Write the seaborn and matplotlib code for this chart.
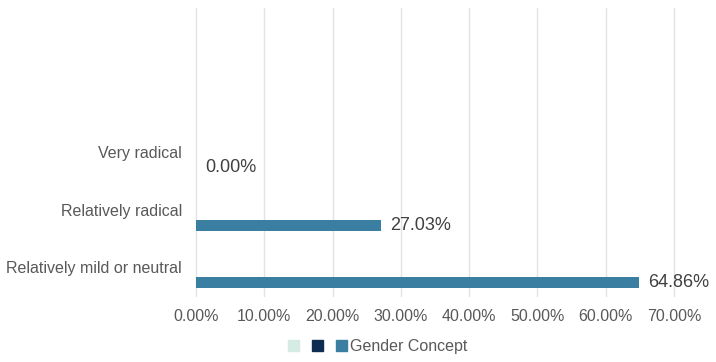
import matplotlib
matplotlib.use("Agg")
import matplotlib.pyplot as plt
import seaborn as sns
import pandas as pd

# chart data
categories = ["Very radical", "Relatively radical", "Relatively mild or neutral"]
series_names = ["Series 1", "Series 2", "Gender Concept"]
series1 = [0.0, 0.0, 0.0]
series2 = [0.0, 0.0, 0.0]
gender_concept = [0.0, 27.03, 64.86]
x_ticks = [0, 10, 20, 30, 40, 50, 60, 70]

colors = ["#d5ebe4", "#0f2d52", "#3a7ea1"]

rows = []
for name, vals in zip(series_names, [series1, series2, gender_concept]):
    for cat, v in zip(categories, vals):
        rows.append({"category": cat, "series": name, "value": v})
df = pd.DataFrame(rows)

sns.set_style("white")
plt.rcParams["font.family"] = ["Liberation Sans", "DejaVu Sans"]

fig = plt.figure(figsize=(7.16, 3.62), dpi=100)
ax = fig.add_axes([0.2737, 0.182, 0.6676, 0.796])

sns.barplot(data=df, y="category", x="value", hue="series", order=categories,
            hue_order=series_names, palette=colors, saturation=1, orient="h",
            width=0.8, gap=0.28, errorbar=None, linewidth=0, ax=ax, legend=False)

ax.set_xlim(0, 70)
ax.set_ylim(2.5, -2.5)
ax.set_xticks(x_ticks)
ax.set_xticklabels([f"{t:.2f}%" for t in x_ticks], fontsize=11.5, color="#595959")
ax.tick_params(axis="y", labelsize=11.5, labelcolor="#595959", length=0, pad=10)
ax.tick_params(axis="x", length=0, pad=9)
ax.set_xlabel("")
ax.set_ylabel("")
ax.grid(axis="x", color="#e3e3e3", linewidth=1)
ax.set_axisbelow(True)
for l in ax.get_xgridlines():
    l.set_clip_on(False)
for s in ax.spines.values():
    s.set_visible(False)

ax.bar_label(ax.containers[2], labels=[f"{v:.2f}%" for v in gender_concept],
             padding=7, fontsize=13, color="#404040")

handles = [plt.Rectangle((0, 0), 1, 1, color=c) for c in colors]
ax.legend(handles, ["", "", "Gender Concept"], loc="center", bbox_to_anchor=(0.38, -0.176),
          ncol=3, frameon=False, fontsize=11.5, handlelength=0.7, handleheight=0.7,
          handletextpad=0.2, columnspacing=0.6, labelcolor="#595959")

fig.savefig("out.png", dpi=100)
